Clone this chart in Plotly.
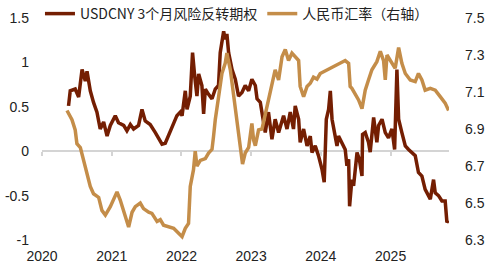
import plotly.graph_objects as go

# USDCNY 3-month risk reversal (left axis)
rr_dates = [
    "2020-05-19", "2020-05-28", "2020-06-23", "2020-07-11", "2020-07-29", "2020-08-15", "2020-08-24",
    "2020-09-10", "2020-09-27", "2020-10-15", "2020-11-01", "2020-11-19", "2020-12-07", "2020-12-24",
    "2021-01-19", "2021-02-05", "2021-03-04", "2021-03-21", "2021-04-08", "2021-04-25", "2021-05-21",
    "2021-06-08", "2021-06-25", "2021-07-21", "2021-08-17", "2021-09-12", "2021-09-21", "2021-10-08",
    "2021-10-25", "2021-11-21", "2021-12-08", "2021-12-26", "2022-01-04", "2022-01-21", "2022-01-30",
    "2022-02-16", "2022-02-28", "2022-03-11", "2022-03-23", "2022-04-01", "2022-04-18", "2022-04-27",
    "2022-05-06", "2022-05-23", "2022-06-10", "2022-06-27", "2022-07-14", "2022-07-23", "2022-08-10",
    "2022-08-18", "2022-08-27", "2022-09-05", "2022-09-23", "2022-10-10", "2022-10-27", "2022-11-14",
    "2022-12-01", "2022-12-19", "2023-01-05", "2023-01-23", "2023-02-01", "2023-02-18", "2023-03-07",
    "2023-03-16", "2023-04-02", "2023-04-20", "2023-05-07", "2023-05-25", "2023-06-20", "2023-07-08",
    "2023-07-25", "2023-08-11", "2023-08-20", "2023-09-07", "2023-09-15", "2023-10-03", "2023-10-21",
    "2023-11-07", "2023-11-16", "2023-12-03", "2023-12-20", "2024-01-07", "2024-01-19", "2024-01-30",
    "2024-02-11", "2024-02-20", "2024-02-29", "2024-03-17", "2024-03-26", "2024-04-03", "2024-04-21",
    "2024-05-08", "2024-05-17", "2024-05-26", "2024-05-31", "2024-06-12", "2024-06-21", "2024-07-09",
    "2024-07-21", "2024-08-04", "2024-08-07", "2024-08-21", "2024-09-07", "2024-09-16", "2024-10-04",
    "2024-10-21", "2024-10-30", "2024-11-17", "2024-12-04", "2024-12-21", "2025-01-08", "2025-01-22",
    "2025-02-03", "2025-02-12", "2025-03-01", "2025-03-19", "2025-04-05", "2025-04-23", "2025-05-10",
    "2025-05-27", "2025-06-14", "2025-07-01", "2025-07-28", "2025-08-14", "2025-08-23", "2025-09-09",
    "2025-09-27", "2025-10-14", "2025-10-23", "2025-11-01",
]
rr_values = [
    0.51, 0.68, 0.70, 0.61, 0.92, 0.79, 0.90,
    0.68, 0.55, 0.44, 0.25, 0.33, 0.17, 0.29,
    0.40, 0.32, 0.29, 0.23, 0.30, 0.25, 0.29,
    0.47, 0.34, 0.30, 0.21, 0.12, 0.08, 0.09,
    0.17, 0.32, 0.40, 0.44, 0.40, 0.68, 0.47,
    0.62, 1.11, 0.85, 0.62, 0.87, 0.74, 0.42,
    0.70, 0.64, 0.59, 0.70, 0.74, 1.11, 1.35,
    1.26, 1.32, 1.11, 0.92, 0.81, 0.62, 0.66,
    0.74, 0.68, 0.81, 0.74, 0.59, 0.55, 0.36,
    0.21, 0.44, 0.135, 0.36, 0.21, 0.40, 0.25,
    0.44, 0.25, 0.51, 0.36, 0.10, 0.25, 0.06,
    0.17, -0.015, 0.06, -0.05, -0.20, -0.35, 0.36,
    0.47, 0.68, 0.36, 0.17, 0.06, 0.17, 0.10,
    0.02, -0.165, -0.09, -0.62, -0.32, -0.39, -0.015,
    -0.09, -0.28, 0.19, 0.21, 0.10, -0.01, 0.38,
    0.10, 0.29, 0.36, 0.21, 0.15, 0.25, 0.02,
    0.92, 0.36, 0.21, 0.06, 0.02, -0.01, -0.05,
    -0.24, -0.28, -0.43, -0.54, -0.32, -0.47, -0.50,
    -0.56, -0.56, -0.80, -0.78,
]

# RMB exchange rate (right axis)
fx_dates = [
    "2020-05-11", "2020-06-06", "2020-06-23", "2020-07-02", "2020-07-20", "2020-08-06", "2020-08-24",
    "2020-09-10", "2020-09-27", "2020-10-24", "2020-11-10", "2020-11-28", "2020-12-24", "2021-01-10",
    "2021-01-28", "2021-02-14", "2021-03-04", "2021-03-30", "2021-04-17", "2021-05-04", "2021-05-30",
    "2021-06-16", "2021-07-13", "2021-07-30", "2021-08-26", "2021-09-12", "2021-09-29", "2021-10-25",
    "2021-11-21", "2021-12-17", "2022-01-04", "2022-01-21", "2022-02-07", "2022-02-16", "2022-03-05",
    "2022-03-14", "2022-03-23", "2022-04-10", "2022-05-06", "2022-05-23", "2022-06-10", "2022-06-18",
    "2022-06-27", "2022-07-14", "2022-08-01", "2022-08-18", "2022-08-27", "2022-09-14", "2022-10-01",
    "2022-10-19", "2022-11-05", "2022-11-17", "2022-12-01", "2022-12-19", "2023-01-05", "2023-01-14",
    "2023-01-23", "2023-02-09", "2023-02-27", "2023-03-25", "2023-04-20", "2023-05-07", "2023-05-25",
    "2023-06-12", "2023-06-29", "2023-07-16", "2023-08-03", "2023-08-20", "2023-09-07", "2023-09-15",
    "2023-10-03", "2023-10-21", "2023-11-07", "2023-11-24", "2023-12-12", "2023-12-29", "2024-02-02",
    "2024-03-08", "2024-04-12", "2024-05-08", "2024-05-26", "2024-06-03", "2024-06-12", "2024-06-30",
    "2024-07-17", "2024-08-04", "2024-08-21", "2024-09-07", "2024-09-25", "2024-10-21", "2024-11-08",
    "2024-11-25", "2024-12-04", "2024-12-13", "2025-01-08", "2025-01-25", "2025-02-12", "2025-03-01",
    "2025-03-19", "2025-04-14", "2025-05-10", "2025-05-27", "2025-06-14", "2025-07-01", "2025-07-28",
    "2025-08-23", "2025-09-18", "2025-10-14", "2025-11-01",
]
fx_values = [
    7.00, 6.95, 6.895, 6.82, 6.80, 6.73, 6.66,
    6.59, 6.55, 6.53, 6.46, 6.435, 6.48, 6.52,
    6.56, 6.516, 6.45, 6.37, 6.45, 6.48, 6.50,
    6.47, 6.45, 6.444, 6.40, 6.41, 6.38, 6.37,
    6.363, 6.336, 6.318, 6.363, 6.39, 6.59, 6.68,
    6.78, 6.70, 6.73, 6.74, 6.77, 6.79, 6.86,
    6.95, 7.07, 7.20, 7.255, 7.31, 7.22, 7.09,
    6.95, 6.82, 6.71, 6.77, 6.80, 6.93, 6.84,
    6.81, 6.895, 6.90, 7.02, 7.13, 7.22, 7.165,
    7.29, 7.33, 7.27, 7.31, 7.29, 7.27, 7.13,
    7.075, 7.13, 7.147, 7.18, 7.17, 7.20, 7.22,
    7.237, 7.255, 7.27, 7.255, 7.13, 7.12, 7.09,
    7.057, 7.01, 7.11, 7.165, 7.22, 7.264, 7.32,
    7.27, 7.165, 7.30, 7.255, 7.228, 7.34, 7.255,
    7.20, 7.165, 7.156, 7.20, 7.165, 7.11, 7.12,
    7.11, 7.075, 7.04, 7.00,
]

rr_name = "USDCNY 3个月风险反转期权"
fx_name = "人民币汇率（右轴）"

x_tickvals = ["2020-01-01", "2021-01-01", "2022-01-01", "2023-01-01", "2024-01-01", "2025-01-01"]
x_ticktext = ["2020", "2021", "2022", "2023", "2024", "2025"]
y_tickvals = [-1, -0.5, 0, 0.5, 1, 1.5]
y_ticktext = ["-1", "-0.5", "0", "0.5", "1", "1.5"]
y2_tickvals = [6.3, 6.5, 6.7, 6.9, 7.1, 7.3, 7.5]
y2_ticktext = ["6.3", "6.5", "6.7", "6.9", "7.1", "7.3", "7.5"]
x_range = ["2020-01-01", "2025-11-03"]

BROWN = "#741E02"
TAN = "#C48D49"
TICK_FONT = dict(family="Liberation Sans, Arial, sans-serif", size=14, color="#222")

fig = go.Figure()
fig.add_trace(go.Scatter(x=rr_dates, y=rr_values, name=rr_name, mode="lines",
                         line=dict(color=BROWN, width=3.5), yaxis="y", xaxis="x"))
fig.add_trace(go.Scatter(x=fx_dates, y=fx_values, name=fx_name, mode="lines",
                         line=dict(color=TAN, width=3.5), yaxis="y2", xaxis="x"))
# carrier for the tick marks drawn on the zero line
fig.add_trace(go.Scatter(x=[], y=[], xaxis="x3", yaxis="y", showlegend=False, hoverinfo="skip"))

fig.update_layout(
    width=485, height=269,
    margin=dict(l=42, r=36, t=18, b=29, autoexpand=False),
    paper_bgcolor="white", plot_bgcolor="white",
    showlegend=True,
    legend=dict(orientation="h", x=-0.005, xanchor="left", y=1.018, yanchor="middle",
                font=dict(family="Noto Sans CJK SC, sans-serif", size=14, color="#222"),
                bgcolor="rgba(0,0,0,0)", itemwidth=30, tracegroupgap=0),
    xaxis=dict(type="date", range=x_range, tickvals=x_tickvals, ticktext=x_ticktext,
               showgrid=False, zeroline=False, showline=False, ticks="",
               tickfont=TICK_FONT, ticklabelstandoff=6),
    xaxis3=dict(type="date", matches="x", overlaying="x", anchor="free", position=0.4,
                tickvals=x_tickvals, showticklabels=False, ticks="outside", ticklen=4,
                tickwidth=1.5, tickcolor="#d4d4d4", showgrid=False, showline=False, zeroline=False),
    yaxis=dict(range=[-1, 1.5], tickvals=y_tickvals, ticktext=y_ticktext,
               showgrid=False, zeroline=True, zerolinecolor="#d4d4d4", zerolinewidth=2,
               showline=False, tickfont=TICK_FONT, ticklabelstandoff=12),
    yaxis2=dict(range=[6.3, 7.5], tickvals=y2_tickvals, ticktext=y2_ticktext,
                overlaying="y", side="right", showgrid=False, zeroline=False, showline=False,
                tickfont=TICK_FONT, ticklabelstandoff=15),
)

fig.write_html("out.html")
